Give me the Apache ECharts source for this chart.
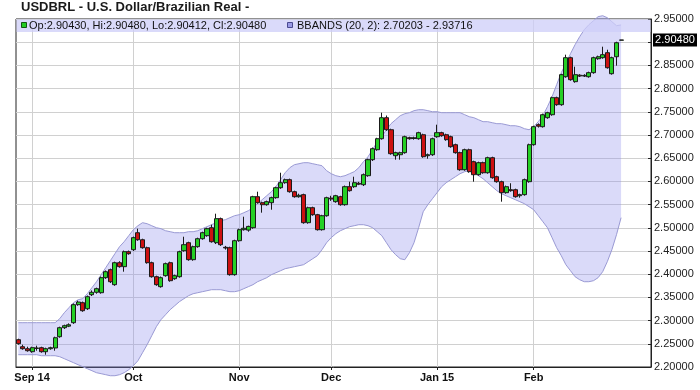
<!DOCTYPE html>
<html>
<head>
<meta charset="utf-8">
<script src="https://cdn.jsdelivr.net/npm/echarts@6/dist/echarts.min.js"></script>
<style>html,body{margin:0;padding:0;background:#fff;}#chart{width:700px;height:390px;}</style>
</head>
<body>
<div id="chart"></div>
<script>
// ---------- DATA ----------
const titleText = 'USDBRL - U.S. Dollar/Brazilian Real -';
const legendOHLC = 'Op:2.90430, Hi:2.90480, Lo:2.90412, Cl:2.90480';
const legendBB = 'BBANDS (20, 2): 2.70203 - 2.93716';
const lastPriceLabel = '2.90480';
const lastPrice = 2.90480;

const dates = [
'2014-08-27','2014-08-28','2014-08-29',
'2014-09-01','2014-09-02','2014-09-03','2014-09-04','2014-09-05','2014-09-08','2014-09-09','2014-09-10','2014-09-11','2014-09-12',
'2014-09-15','2014-09-16','2014-09-17','2014-09-18','2014-09-19','2014-09-22','2014-09-23','2014-09-24','2014-09-25','2014-09-26',
'2014-09-29','2014-09-30',
'2014-10-01','2014-10-02','2014-10-03','2014-10-06','2014-10-07','2014-10-08','2014-10-09','2014-10-10','2014-10-13','2014-10-14',
'2014-10-15','2014-10-16','2014-10-17','2014-10-20','2014-10-21','2014-10-22','2014-10-23','2014-10-24','2014-10-27','2014-10-28',
'2014-10-29','2014-10-30','2014-10-31',
'2014-11-03','2014-11-04','2014-11-05','2014-11-06','2014-11-07','2014-11-10','2014-11-11','2014-11-12','2014-11-13','2014-11-14',
'2014-11-17','2014-11-18','2014-11-19','2014-11-20','2014-11-21','2014-11-24','2014-11-25','2014-11-26','2014-11-27','2014-11-28',
'2014-12-01','2014-12-02','2014-12-03','2014-12-04','2014-12-05','2014-12-08','2014-12-09','2014-12-10','2014-12-11','2014-12-12',
'2014-12-15','2014-12-16','2014-12-17','2014-12-18','2014-12-19','2014-12-22','2014-12-23','2014-12-24','2014-12-25','2014-12-26',
'2014-12-29','2014-12-30','2014-12-31',
'2015-01-02','2015-01-05','2015-01-06','2015-01-07','2015-01-08','2015-01-09','2015-01-12','2015-01-13','2015-01-14','2015-01-15',
'2015-01-16','2015-01-19','2015-01-20','2015-01-21','2015-01-22','2015-01-23','2015-01-26','2015-01-27','2015-01-28','2015-01-29',
'2015-01-30',
'2015-02-02','2015-02-03','2015-02-04','2015-02-05','2015-02-06','2015-02-09','2015-02-10','2015-02-11','2015-02-12','2015-02-13',
'2015-02-16','2015-02-17','2015-02-18','2015-02-19','2015-02-20','2015-02-23','2015-02-24','2015-02-25','2015-02-26','2015-02-27'
];
const padDates = ['2015-03-02','2015-03-03','2015-03-04','2015-03-05','2015-03-06','2015-03-09'];

const openP = [
2.2588,2.2437,2.2394,2.2330,2.2400,2.2416,2.2330,2.2394,2.2410,2.2653,
2.2847,2.2880,2.2955,2.3343,2.3386,2.3256,2.3558,2.3610,2.3601,2.3925,
2.4097,2.3774,2.4248,2.4162,2.4485,2.4528,2.4894,2.4743,2.4571,2.4248,
2.3946,2.3731,2.3968,2.4248,2.3903,2.3946,2.4506,2.4679,2.4313,2.4593,
2.4765,2.4830,2.5002,2.4679,2.5197,2.4580,2.4571,2.3990,2.4722,2.4959,
2.4950,2.5002,2.5670,2.5541,2.5498,2.5541,2.5649,2.5864,2.5972,2.6037,
2.5778,2.5670,2.5714,2.5110,2.5433,2.5282,2.4959,2.5260,2.5640,2.5563,
2.5670,2.5498,2.5886,2.5886,2.5960,2.5929,2.6123,2.6468,2.6683,2.6920,
2.7373,2.7114,2.6554,2.6575,2.6619,2.6942,2.6925,2.6920,2.7006,2.6554,
2.6575,2.6963,2.7050,2.7006,2.6963,2.6791,2.6619,2.6252,2.6683,2.6425,
2.6144,2.6403,2.6187,2.6511,2.6101,2.5994,2.5757,2.5821,2.5821,2.5692,
2.5714,2.5994,2.6791,2.7222,2.7179,2.7373,2.7437,2.7804,2.7653,2.8256,
2.8666,2.8149,2.8290,2.8270,2.8256,2.8343,2.8644,2.8666,2.8774,2.8321,
2.8687,2.9043];
const closeP = [
2.2502,2.2394,2.2351,2.2416,2.2410,2.2330,2.2394,2.2416,2.2631,2.2847,
2.2890,2.2910,2.3343,2.3400,2.3213,2.3515,2.3610,2.3688,2.3925,2.4054,
2.3838,2.4248,2.4162,2.4485,2.4442,2.4787,2.4743,2.4571,2.4248,2.3946,
2.3774,2.3925,2.4227,2.3860,2.3968,2.4485,2.4636,2.4313,2.4593,2.4765,
2.4894,2.4981,2.4700,2.5197,2.4636,2.4565,2.3990,2.4722,2.4959,2.4990,
2.5030,2.5670,2.5541,2.5498,2.5563,2.5649,2.5864,2.5972,2.6037,2.5778,
2.5670,2.5700,2.5110,2.5433,2.5282,2.4959,2.5260,2.5649,2.5620,2.5692,
2.5498,2.5886,2.5800,2.5972,2.5940,2.6144,2.6468,2.6705,2.6920,2.7373,
2.7114,2.6597,2.6619,2.6619,2.6963,2.6920,2.6940,2.7050,2.6532,2.6575,
2.6920,2.7050,2.6985,2.6899,2.6748,2.6619,2.6252,2.6683,2.6209,2.6144,
2.6403,2.6187,2.6511,2.6080,2.5994,2.5757,2.5886,2.5800,2.5670,2.5714,
2.6037,2.6791,2.7179,2.7190,2.7437,2.7481,2.7804,2.7653,2.8300,2.8666,
2.8192,2.8300,2.8270,2.8285,2.8343,2.8666,2.8687,2.8731,2.8450,2.8666,
2.8989,2.9048];
const lowP = [
2.2481,2.2373,2.2330,2.2308,2.2351,2.2308,2.2265,2.2373,2.2351,2.2631,
2.2820,2.2860,2.2930,2.3320,2.3190,2.3230,2.3530,2.3580,2.3580,2.3900,
2.3810,2.3750,2.4140,2.4054,2.4420,2.4500,2.4720,2.4550,2.4227,2.3925,
2.3750,2.3710,2.3946,2.3838,2.3880,2.3925,2.4485,2.4290,2.4290,2.4571,
2.4743,2.4808,2.4680,2.4650,2.4610,2.4530,2.3968,2.3968,2.4700,2.4940,
2.4916,2.4980,2.5520,2.5326,2.5476,2.5390,2.5627,2.5840,2.5950,2.5757,
2.5649,2.5649,2.5088,2.5088,2.5260,2.4940,2.4940,2.5240,2.5580,2.5540,
2.5476,2.5476,2.5780,2.5860,2.5920,2.5900,2.6100,2.6440,2.6660,2.6900,
2.7090,2.6575,2.6468,2.6468,2.6597,2.6899,2.6899,2.6899,2.6510,2.6489,
2.6550,2.6940,2.6963,2.6877,2.6726,2.6597,2.6230,2.6230,2.6187,2.5994,
2.6123,2.6166,2.6166,2.6058,2.5972,2.5563,2.5735,2.5778,2.5649,2.5649,
2.5692,2.5972,2.6770,2.7160,2.7160,2.7350,2.7415,2.7630,2.7630,2.8235,
2.8170,2.8127,2.8250,2.8250,2.8235,2.8321,2.8622,2.8644,2.8430,2.8300,
2.8494,2.90412];
const highP = [
2.2610,2.2481,2.2437,2.2437,2.2459,2.2437,2.2416,2.2437,2.2653,2.2869,
2.2912,2.2940,2.3370,2.3430,2.3410,2.3540,2.3650,2.3710,2.3950,2.4080,
2.4120,2.4270,2.4280,2.4510,2.4510,2.4810,2.4981,2.4765,2.4593,2.4270,
2.3968,2.3950,2.4250,2.4270,2.3990,2.4506,2.4808,2.4700,2.4615,2.4787,
2.4916,2.5002,2.5067,2.5304,2.5220,2.4610,2.4593,2.4743,2.4981,2.5239,
2.5045,2.5690,2.5778,2.5563,2.5585,2.5670,2.5886,2.6187,2.6060,2.6060,
2.5800,2.5735,2.5735,2.5455,2.5455,2.5300,2.5280,2.5670,2.5690,2.5710,
2.5690,2.5910,2.5994,2.6101,2.5990,2.6170,2.6490,2.6730,2.6940,2.7481,
2.7420,2.7136,2.6640,2.6640,2.6985,2.6963,2.6963,2.7070,2.7028,2.6600,
2.6942,2.7222,2.7070,2.7028,2.6985,2.6813,2.6640,2.6705,2.6705,2.6446,
2.6425,2.6425,2.6532,2.6532,2.6123,2.6015,2.5910,2.5960,2.5843,2.5735,
2.6060,2.6813,2.7200,2.7250,2.7460,2.7500,2.7826,2.7826,2.8320,2.8731,
2.8688,2.8472,2.8310,2.8310,2.8365,2.8688,2.8710,2.8903,2.8838,2.8688,
2.9010,2.9048];

const bbUpper = [
2.2955,2.2955,2.2955,2.2955,2.2955,2.2955,2.2955,2.2955,2.2955,2.3041,
2.3170,2.3278,2.3386,2.3450,2.3472,2.3580,2.3709,2.3838,2.3989,2.4140,
2.4291,2.4442,2.4593,2.4700,2.4830,2.4959,2.5045,2.5110,2.5088,2.5045,
2.5002,2.4981,2.4937,2.4916,2.4894,2.4894,2.4894,2.4916,2.4916,2.4937,
2.4981,2.5024,2.5067,2.5110,2.5153,2.5175,2.5218,2.5261,2.5282,2.5325,
2.5369,2.5433,2.5519,2.5606,2.5692,2.5778,2.5886,2.6037,2.6188,2.6295,
2.6360,2.6381,2.6403,2.6403,2.6381,2.6360,2.6338,2.6231,2.6166,2.6123,
2.6101,2.6123,2.6166,2.6209,2.6295,2.6425,2.6532,2.6683,2.6856,2.6963,
2.7114,2.7244,2.7330,2.7416,2.7459,2.7481,2.7524,2.7545,2.7545,2.7524,
2.7502,2.7502,2.7481,2.7481,2.7481,2.7481,2.7481,2.7438,2.7394,2.7373,
2.7330,2.7287,2.7287,2.7265,2.7244,2.7244,2.7222,2.7200,2.7200,2.7179,
2.7136,2.7114,2.7179,2.7287,2.7416,2.7610,2.7826,2.8084,2.8343,2.8537,
2.8752,2.8946,2.9119,2.9269,2.9377,2.9463,2.9550,2.9571,2.9528,2.9442,
2.9356,2.9372];
const bbLower = [
2.2265,2.2265,2.2265,2.2265,2.2265,2.2243,2.2243,2.2243,2.2243,2.2222,
2.2179,2.2136,2.2093,2.2049,2.2006,2.1963,2.1920,2.1877,2.1856,2.1834,
2.1812,2.1812,2.1834,2.1877,2.1942,2.2028,2.2136,2.2308,2.2481,2.2675,
2.2869,2.3019,2.3127,2.3235,2.3321,2.3407,2.3472,2.3537,2.3580,2.3601,
2.3623,2.3644,2.3666,2.3666,2.3666,2.3644,2.3623,2.3623,2.3644,2.3688,
2.3731,2.3774,2.3838,2.3881,2.3925,2.3989,2.4032,2.4075,2.4119,2.4140,
2.4162,2.4183,2.4205,2.4269,2.4334,2.4399,2.4528,2.4679,2.4787,2.4873,
2.4937,2.4981,2.5024,2.5045,2.5067,2.5067,2.5045,2.5002,2.4916,2.4830,
2.4679,2.4528,2.4420,2.4334,2.4312,2.4463,2.4679,2.5002,2.5347,2.5498,
2.5627,2.5756,2.5886,2.5972,2.6037,2.6101,2.6166,2.6209,2.6231,2.6188,
2.6123,2.6058,2.5972,2.5886,2.5800,2.5735,2.5692,2.5649,2.5606,2.5563,
2.5519,2.5455,2.5390,2.5261,2.5132,2.5002,2.4787,2.4571,2.4399,2.4205,
2.4075,2.3946,2.3881,2.3838,2.3838,2.3860,2.3925,2.4054,2.4269,2.4528,
2.4851,2.5218];

const tickDates = ['2014-09-01','2014-10-01','2014-11-03','2014-12-01','2015-01-02','2015-02-02'];
const tickLabels = ['Sep 14','Oct','Nov','Dec','Jan 15','Feb'];

// ---------- BUILD ----------
const categories = dates.concat(padDates);
const tickIdx = tickDates.map(d => categories.indexOf(d));
const isTick = (index) => tickIdx.indexOf(index) >= 0;
const candleData = openP.map((o, i) => [o, closeP[i], lowP[i], highP[i]]);
const bbWidth = bbUpper.map((u, i) => +(u - bbLower[i]).toFixed(5));
const FONT = '"Liberation Sans", Arial, Helvetica, sans-serif';

const chart = echarts.init(document.getElementById('chart'), null, {renderer: 'canvas'});
chart.setOption({
  animation: false,
  backgroundColor: '#fff',
  textStyle: {fontFamily: FONT},
  grid: {left: 16, right: 49, top: 19, bottom: 23, show: true, borderColor: '#222', borderWidth: 1, backgroundColor: '#fff'},
  xAxis: {
    type: 'category', data: categories, boundaryGap: true,
    axisLine: {show: true, lineStyle: {color: '#222', width: 1}},
    axisTick: {show: true, interval: isTick, alignWithLabel: true, length: 3, lineStyle: {color: '#222'}},
    axisLabel: {interval: isTick, formatter: (v, i) => tickLabels[tickIdx.indexOf(i)] || '',
      fontFamily: FONT, fontWeight: 'bold', fontSize: 11, color: '#111', margin: 5},
    splitLine: {show: true, interval: isTick, alignWithLabel: true, lineStyle: {color: '#d0d0d0', width: 1}}
  },
  yAxis: {
    type: 'value', position: 'right', min: 2.2, max: 2.95, interval: 0.05,
    axisLine: {show: true, lineStyle: {color: '#222', width: 1}},
    axisTick: {show: true, inside: true, length: 3, lineStyle: {color: '#222'}},
    axisLabel: {formatter: v => v.toFixed(5), fontFamily: FONT, fontSize: 11, color: '#222', margin: 3},
    splitLine: {show: true, lineStyle: {color: '#d0d0d0', width: 1}}
  },
  series: [
    {
      name: 'bbLower', type: 'line', data: bbLower, stack: 'bb', symbol: 'none', clip: false, silent: true, z: 1,
      lineStyle: {color: '#9a9ad4', width: 1}
    },
    {
      name: 'bbUpper', type: 'line', data: bbWidth, stack: 'bb', symbol: 'none', clip: false, silent: true, z: 1,
      lineStyle: {color: '#9a9ad4', width: 1},
      areaStyle: {color: 'rgba(140,140,235,0.45)'}
    },
    {
      name: 'USDBRL', type: 'candlestick', data: candleData, barWidth: 4.6, z: 3,
      itemStyle: {color: '#25d025', color0: '#cc1111', borderColor: '#1a1a1a', borderColor0: '#1a1a1a', borderWidth: 1}
    }
  ],
  graphic: [
    {type: 'text', left: 21, top: 1, z: 100,
      style: {text: titleText, font: 'bold 13px ' + FONT, fill: '#1a1a1a'}},
    {type: 'rect', z: 90, shape: {x: 16.5, y: 19.5, width: 634, height: 12.5},
      style: {fill: 'rgba(205,205,248,0.75)'}},
    {type: 'rect', z: 100, shape: {x: 21.5, y: 22.5, width: 5, height: 5},
      style: {fill: '#22cc22', stroke: '#115511', lineWidth: 1}},
    {type: 'text', z: 100, x: 29, y: 26,
      style: {text: legendOHLC, font: '11px ' + FONT, fill: '#111', verticalAlign: 'middle', textVerticalAlign: 'middle'}},
    {type: 'rect', z: 100, shape: {x: 287.5, y: 22.5, width: 5, height: 5},
      style: {fill: '#9a9ae6', stroke: '#4a4a90', lineWidth: 1}},
    {type: 'text', z: 100, x: 297, y: 26,
      style: {text: legendBB, font: '11px ' + FONT, fill: '#111', verticalAlign: 'middle', textVerticalAlign: 'middle'}}
  ]
});

// last-price tag on the right axis, positioned through the library's y scale
const lastY = chart.convertToPixel({yAxisIndex: 0}, lastPrice);
const gridRight = chart.convertToPixel({xAxisIndex: 0}, categories.length - 1) + 2.4;
chart.setOption({
  graphic: [
    {type: 'rect', id: 'lpBox', z: 110, shape: {x: 653, y: Math.round(lastY) - 6.5, width: 44, height: 13},
      style: {fill: '#000'}},
    {type: 'text', id: 'lpText', z: 111, x: 675, y: Math.round(lastY),
      style: {text: lastPriceLabel, font: '11px ' + FONT, fill: '#fff', align: 'center', verticalAlign: 'middle',
        textAlign: 'center', textVerticalAlign: 'middle'}}
  ]
});
</script>
</body>
</html>
